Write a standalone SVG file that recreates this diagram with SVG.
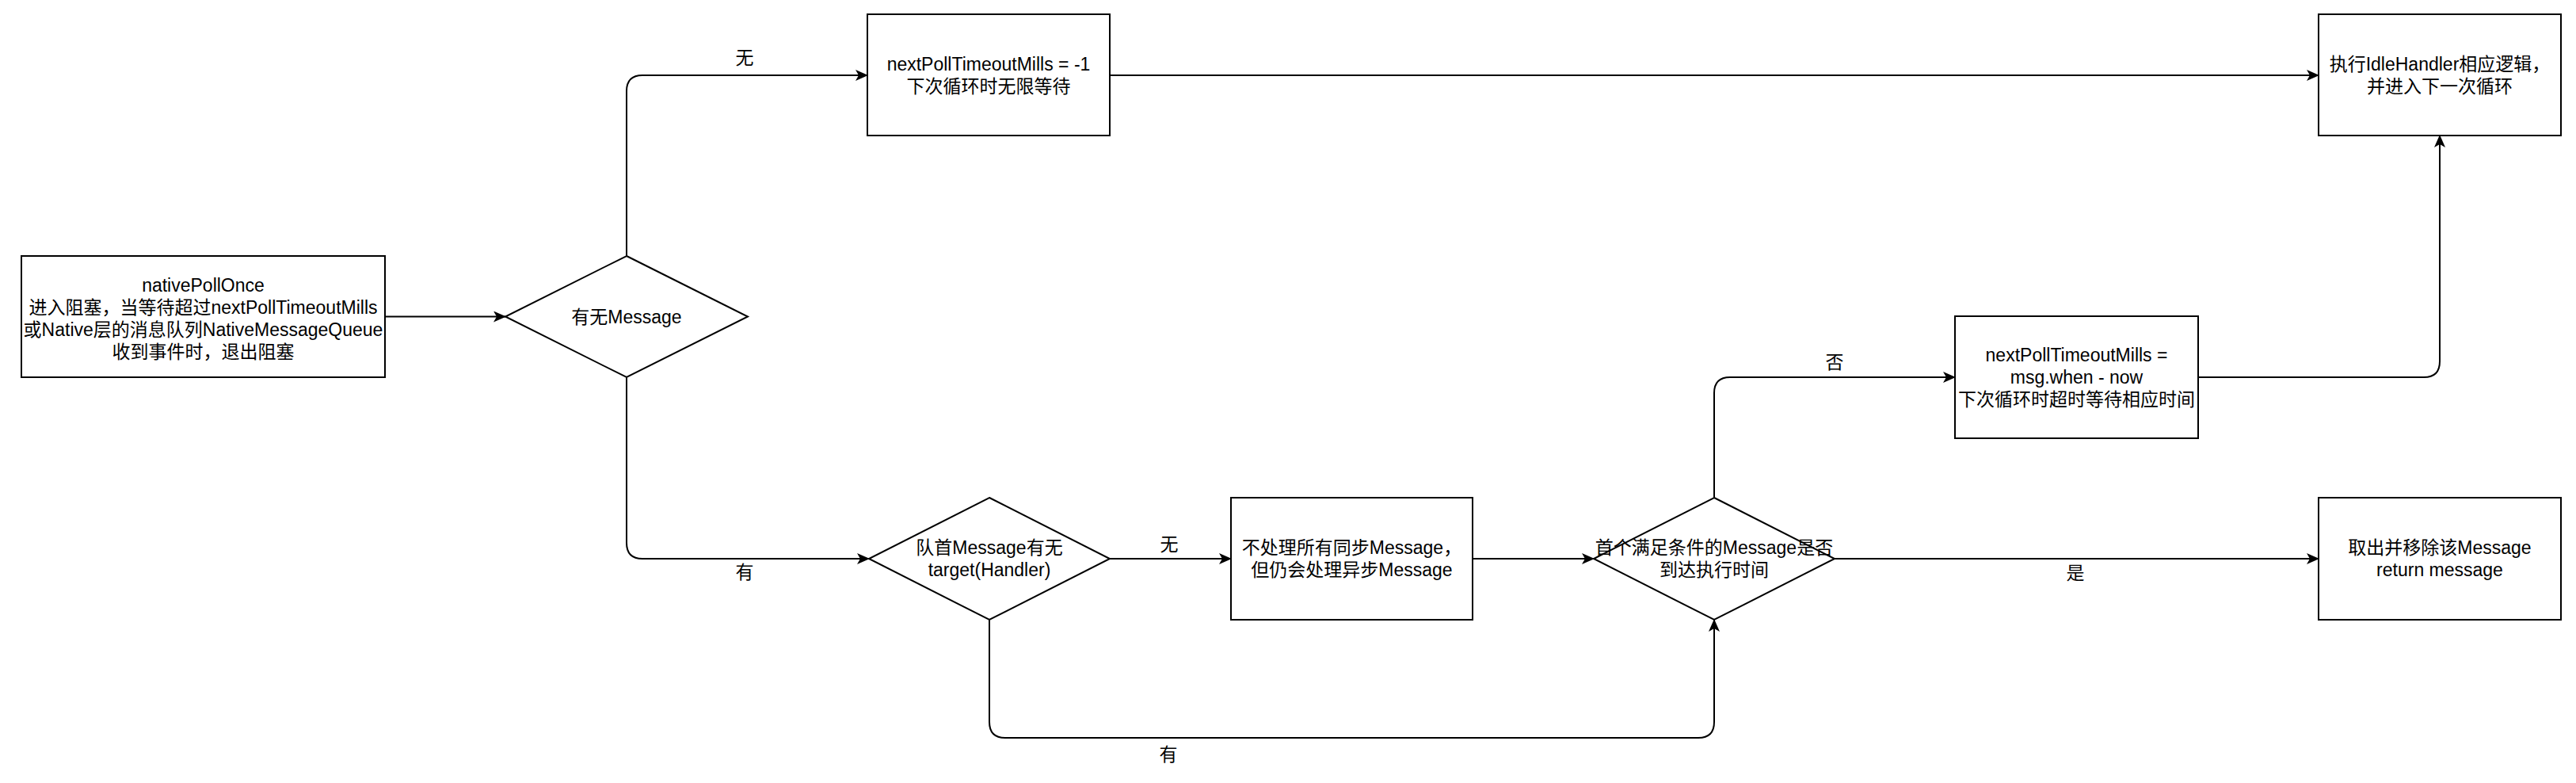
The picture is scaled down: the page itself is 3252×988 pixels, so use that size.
<svg xmlns="http://www.w3.org/2000/svg" width="3252" height="988" viewBox="0 0 3252 988">
<style>
.n{fill:#fff;stroke:#000;stroke-width:2}
.t{font-family:"Liberation Sans","Noto Sans CJK SC",sans-serif;font-size:23px;fill:#000;text-anchor:middle}
.e{fill:none;stroke:#000;stroke-width:2;marker-end:url(#arr)}
</style>
<defs>
<marker id="arr" viewBox="0 0 16 14" refX="15" refY="7" markerWidth="16" markerHeight="14" markerUnits="userSpaceOnUse" orient="auto">
<path d="M0,0 L16,7 L0,14 L4,7 Z" fill="#000"/>
</marker>
</defs>
<rect width="3252" height="988" fill="#fff"/>
<g id="connectors">
<path class="e" d="M486,399.5 L638,399.5"/>
<path class="e" d="M791,323 L791,115 Q791,95 811,95 L1095,95"/>
<path class="e" d="M791,476 L791,685 Q791,705 811,705 L1097,705"/>
<path class="e" d="M1401,95 L2927,95"/>
<path class="e" d="M1401,705 L1554,705"/>
<path class="e" d="M1249,782 L1249,911 Q1249,931 1269,931 L2144,931 Q2164,931 2164,911 L2164,782"/>
<path class="e" d="M1859,705 L2012,705"/>
<path class="e" d="M2164,628 L2164,496 Q2164,476 2184,476 L2468,476"/>
<path class="e" d="M2316,705 L2927,705"/>
<path class="e" d="M2775,476 L3060,476 Q3080,476 3080,456 L3080,171"/>
<text class="t" x="940" y="81">无</text>
<text class="t" x="940" y="730">有</text>
<text class="t" x="1476" y="695">无</text>
<text class="t" x="1475" y="960">有</text>
<text class="t" x="2316" y="465">否</text>
<text class="t" x="2620" y="731">是</text>
</g>
<g id="n1">
<rect class="n" x="27" y="323" width="459" height="153"/>
<text class="t" x="256.5" y="368">nativePollOnce</text>
<text class="t" x="256.5" y="396">进入阻塞，当等待超过nextPollTimeoutMills</text>
<text class="t" x="256.5" y="424">或Native层的消息队列NativeMessageQueue</text>
<text class="t" x="256.5" y="452">收到事件时，退出阻塞</text>
</g>
<g id="d1">
<path class="n" d="M791,323 L944,399.5 L791,476 L638,399.5 Z"/>
<text class="t" x="791" y="407.5">有无Message</text>
</g>
<g id="n2">
<rect class="n" x="1095" y="18" width="306" height="153"/>
<text class="t" x="1248" y="89">nextPollTimeoutMills = -1</text>
<text class="t" x="1248" y="117">下次循环时无限等待</text>
</g>
<g id="n3">
<rect class="n" x="2927" y="18" width="306" height="153"/>
<text class="t" x="3080" y="89">执行IdleHandler相应逻辑，</text>
<text class="t" x="3080" y="117">并进入下一次循环</text>
</g>
<g id="d2">
<path class="n" d="M1249,628 L1401,705 L1249,782 L1097,705 Z"/>
<text class="t" x="1249" y="699">队首Message有无</text>
<text class="t" x="1249" y="727">target(Handler)</text>
</g>
<g id="n4">
<rect class="n" x="1554" y="628" width="305" height="154"/>
<text class="t" x="1706.5" y="699">不处理所有同步Message，</text>
<text class="t" x="1706.5" y="727">但仍会处理异步Message</text>
</g>
<g id="d3">
<path class="n" d="M2164,628 L2316,705 L2164,782 L2012,705 Z"/>
<text class="t" x="2164" y="699">首个满足条件的Message是否</text>
<text class="t" x="2164" y="727">到达执行时间</text>
</g>
<g id="n5">
<rect class="n" x="2468" y="399" width="307" height="154"/>
<text class="t" x="2621.5" y="456">nextPollTimeoutMills =</text>
<text class="t" x="2621.5" y="484">msg.when - now</text>
<text class="t" x="2621.5" y="512">下次循环时超时等待相应时间</text>
</g>
<g id="n6">
<rect class="n" x="2927" y="628" width="306" height="154"/>
<text class="t" x="3080" y="699">取出并移除该Message</text>
<text class="t" x="3080" y="727">return message</text>
</g>
</svg>
